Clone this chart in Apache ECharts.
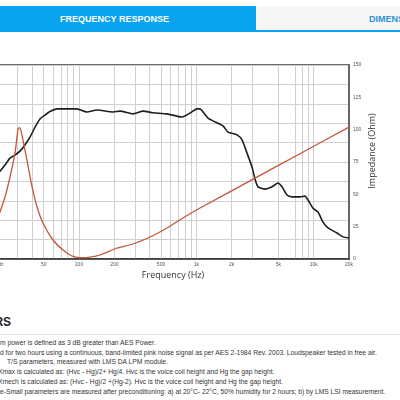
<!DOCTYPE html>
<html>
<head>
<meta charset="utf-8">
<script src="https://cdn.jsdelivr.net/npm/echarts@6/dist/echarts.min.js"></script>
<style>
html, body { margin:0; padding:0; width:400px; height:400px; overflow:hidden; background:#fff; font-family:"Liberation Sans", Arial, sans-serif; }
.tab { position:absolute; top:6px; height:26px; line-height:26px; font-size:9px; font-weight:bold; text-align:center; box-sizing:border-box; }
#tab1 { left:-27px; width:283px; background:#0aa4ee; color:#fff; }
#tab2 { left:256px; width:283px; background:#f7f7f7; color:#2e8fd6; border-bottom:2px solid #0aa4ee; }
#chart { position:absolute; left:-60px; top:40px; width:460px; height:250px; }
#head { position:absolute; left:-72px; top:315px; font-size:12px; font-weight:bold; color:#222; }
#rule { position:absolute; left:0; top:334px; width:400px; height:1px; background:#e4e4e4; }
#notes { position:absolute; left:0; top:338px; font-size:6.7px; line-height:9.7px; color:#333; white-space:nowrap; }
</style>
</head>
<body>
<div class="tab" id="tab1">FREQUENCY RESPONSE</div>
<div class="tab" id="tab2">DIMENSIONS</div>
<div id="chart"></div>
<div id="head">PARAMETERS</div>
<div id="rule"></div>
<div id="notes">
<div>m power is defined as 3 dB greater than AES Power.</div>
<div>d for two hours using a continuous, band-limited pink noise signal as per AES 2-1984 Rev. 2003. Loudspeaker tested in free air.</div>
<div style="padding-left:7px">T/S parameters, measured with LMS DA LPM module.</div>
<div style="margin-left:-2px">Xmax is calculated as: (Hvc - Hg)/2+ Hg/4. Hvc is the voice coil height and Hg the gap height.</div>
<div style="margin-left:-2px">Xmech is calculated as: (Hvc - Hg)/2 +(Hg-2). Hvc is the voice coil height and Hg the gap height.</div>
<div>e-Small parameters are measured after preconditioning: a) at 20°C- 22°C, 50% humidity for 2 hours; b) by LMS LSI measurement.</div>
</div>
<script>
// tick labels and grid positions (Hz)
var freqLabels = [20, 50, 100, 200, 500, 1000, 2000, 5000, 10000, 20000];
var gridFreqs = [20, 30, 40, 50, 60, 70, 80, 90, 100, 200, 300, 400, 500, 600, 700, 800, 900,
	1000, 2000, 3000, 5000, 7000, 8000, 9000, 10000, 20000];

// SPL curve (dB)
var splFreq = [20, 21.2, 23.4, 25.8, 28.5, 31.4, 34.6, 38.2, 42.2, 46.5, 51.3, 56.6, 64.9, 79, 96,
	117, 142, 195, 224, 289, 351, 427, 562, 755, 883, 1013, 1074, 1140, 1257, 1387, 1688, 1862,
	2222, 2450, 2702, 2981, 3162, 3354, 3848, 4414, 4966, 5370, 5924, 6536, 7646, 8434, 8946,
	9868, 10886, 12008, 13244, 15800, 17780, 20000];
var splDb = [81.8, 82.6, 84.2, 86.0, 86.8, 87.8, 89.4, 91.4, 94.0, 96.1, 97.1, 98.0, 98.7, 98.7, 98.7,
	97.9, 98.4, 97.9, 98.1, 97.4, 98.1, 97.7, 97.4, 96.6, 97.6, 98.7, 98.7, 97.9, 96.3, 95.6, 94.3, 92.7,
	92.0, 90.7, 87.3, 83.7, 80.6, 78.6, 78.0, 78.6, 79.6, 78.6, 76.5, 76.0, 76.0, 76.2, 75.2,
	73.1, 72.1, 69.5, 68.0, 66.7, 65.7, 65.4];

// impedance curve (Ohm)
var impFreq = [20, 21.2, 23.4, 25.8, 28.5, 30.2, 31.0, 32.0, 33.3, 36, 39.8, 43.9, 49.3, 60, 73, 88.9,
	108, 124, 151, 211, 289, 403, 562, 769, 1074, 3162, 7646, 20000];
var impOhm = [29.4, 36.3, 47.9, 63.4, 82.0, 100.5, 101.5, 99.5, 92.0, 76.5, 55.7, 40.2, 27.8, 14.7, 7.0, 2.0,
	1.0, 1.4, 3.1, 8.5, 11.6, 17.0, 24.0, 31.7, 39.4, 62.5, 81.4, 102.0];

function pairs(xs, ys) {
	var out = [];
	for (var i = 0; i < xs.length; i++) out.push([xs[i], ys[i]]);
	return out;
}

var chart = echarts.init(document.getElementById('chart'));
var option = {
	animation: false,
	grid: {
		left: 57, right: 51, top: 25, bottom: 31,
		show: true, borderColor: '#3a3a3a', borderWidth: 1.5, backgroundColor: 'transparent'
	},
	xAxis: {
		type: 'log',
		logBase: 10,
		min: 20,
		max: 20000,
		name: 'Frequency (Hz)',
		nameLocation: 'middle',
		nameGap: 12,
		nameMoveOverlap: false,
		nameTextStyle: { fontSize: 9, color: '#333', fontFamily: 'Open Sans' },
		axisLine: { lineStyle: { color: '#333', width: 1.5 } },
		axisTick: { show: false, customValues: gridFreqs },
		axisLabel: {
			customValues: freqLabels,
			fontSize: 5,
			color: '#555',
			margin: 3,
			formatter: function (v) {
				if (v == 20) return '20 Hz';
				return v >= 1000 ? (v / 1000) + 'k' : String(v);
			}
		},
		splitLine: { show: true, lineStyle: { color: '#cfcfcf', width: 1 } }
	},
	yAxis: [{
		type: 'value',
		min: 60,
		max: 110,
		interval: 5,
		name: 'SPL (dB)',
		nameLocation: 'middle',
		nameGap: 25,
		axisLine: { show: false },
		axisTick: { show: false },
		axisLabel: { fontSize: 5, color: '#555' },
		splitLine: { lineStyle: { color: '#cfcfcf', width: 1 } }
	}, {
		type: 'value',
		position: 'right',
		min: 0,
		max: 150,
		interval: 25,
		name: 'Impedance (Ohm)',
		nameLocation: 'middle',
		nameGap: 19,
		nameMoveOverlap: false,
		nameTextStyle: { fontSize: 9, color: '#333', fontFamily: 'Open Sans', padding: [0, 0, 0, 22] },
		axisLine: { show: true, lineStyle: { color: '#666', width: 2 } },
		axisTick: { show: false },
		axisLabel: { fontSize: 5, color: '#555', margin: 4 },
		splitLine: { show: false }
	}],
	series: [{
		name: 'SPL',
		type: 'line',
		yAxisIndex: 0,
		showSymbol: false,
		smooth: 0.2,
		lineStyle: { color: '#1e1e1e', width: 1.6 },
		data: pairs(splFreq, splDb)
	}, {
		name: 'Impedance',
		type: 'line',
		yAxisIndex: 1,
		showSymbol: false,
		smooth: 0.2,
		lineStyle: { color: '#c4573a', width: 1.3 },
		data: pairs(impFreq, impOhm)
	}]
};
chart.setOption(option);
</script>
</body>
</html>
